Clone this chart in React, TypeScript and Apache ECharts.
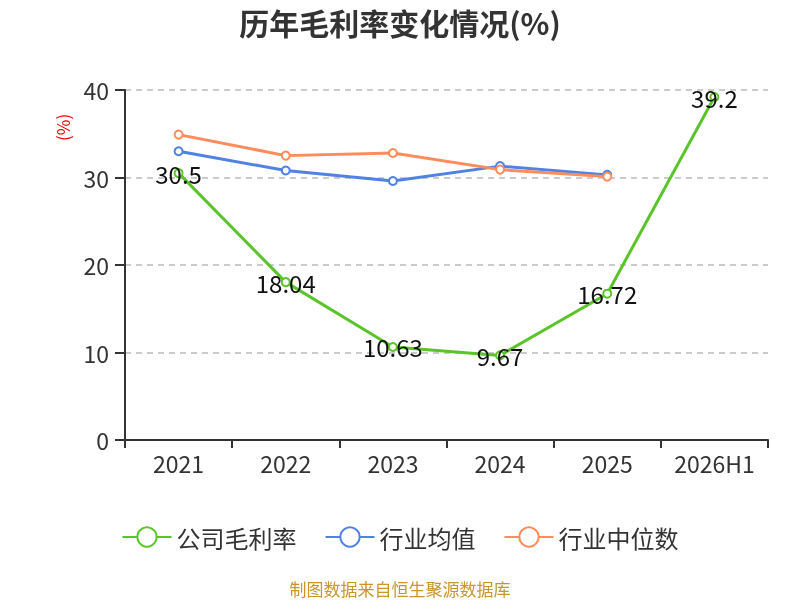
import React, { useEffect, useRef } from 'react';
import * as echarts from 'echarts';

const years = ['2021', '2022', '2023', '2024', '2025', '2026H1'];
const companyMargin = [30.5, 18.04, 10.63, 9.67, 16.72, 39.2];
const industryAvg = [33.0, 30.8, 29.6, 31.3, 30.3, null];
const industryMedian = [34.9, 32.5, 32.8, 30.9, 30.1, null];
const yTicks = [0, 10, 20, 30, 40];

const App: React.FC = () => {
  const chartRef = useRef<HTMLDivElement>(null);

  useEffect(() => {
    const chart = echarts.init(chartRef.current as HTMLDivElement, null, { renderer: 'svg' });
    const font = "'Noto Sans CJK SC', 'Noto Sans', sans-serif";
    const option = {
      animation: false,
      textStyle: { fontFamily: font },
      title: {
        text: '历年毛利率变化情况(%)',
        left: 'center',
        top: 2,
        textStyle: { fontSize: 30, fontWeight: 'bold', color: '#333', fontFamily: font },
      },
      grid: { left: 125, right: 32, top: 90, bottom: 160 },
      legend: {
        top: 520,
        left: 'center',
        itemWidth: 49,
        itemHeight: 24,
        itemGap: 28,
        textStyle: { fontSize: 24, color: '#333', fontFamily: font },
        data: ['公司毛利率', '行业均值', '行业中位数'],
      },
      xAxis: {
        type: 'category',
        data: years,
        axisLine: { lineStyle: { color: '#333', width: 2 } },
        axisTick: { show: true, interval: 0, length: 8, lineStyle: { width: 2, color: '#333' } },
        axisLabel: { interval: 0, fontSize: 23, color: '#333', margin: 11 },
      },
      yAxis: {
        type: 'value',
        min: yTicks[0],
        max: yTicks[yTicks.length - 1],
        interval: 10,
        axisLine: { show: true, lineStyle: { color: '#333', width: 2 } },
        axisTick: { show: true, length: 10, lineStyle: { width: 2 } },
        axisLabel: { fontSize: 23, color: '#333', margin: 16 },
        splitLine: { lineStyle: { type: [6, 5], color: '#bbb', width: 1.5 } },
      },
      graphic: [
        {
          type: 'text',
          x: 54,
          y: 141,
          rotation: Math.PI / 2,
          style: { text: '(%)', fill: '#e00', fontSize: 17, fontFamily: font },
        },
        {
          type: 'text',
          left: 'center',
          top: 580,
          style: { text: '制图数据来自恒生聚源数据库', fill: '#c8962a', fontSize: 17, fontFamily: font },
        },
      ],
      series: [
        {
          name: '公司毛利率',
          type: 'line',
          data: companyMargin,
          symbol: 'emptyCircle',
          symbolSize: 8,
          color: '#5ac42a',
          lineStyle: { width: 3 },
          label: { show: true, position: 'inside', fontSize: 24, color: '#111' },
          z: 3,
        },
        {
          name: '行业均值',
          type: 'line',
          data: industryAvg,
          symbol: 'emptyCircle',
          symbolSize: 8,
          color: '#4f82e3',
          lineStyle: { width: 3 },
        },
        {
          name: '行业中位数',
          type: 'line',
          data: industryMedian,
          symbol: 'emptyCircle',
          symbolSize: 8,
          color: '#ff8c5a',
          lineStyle: { width: 3 },
        },
      ],
    };
    chart.setOption(option);
    return () => {
      chart.dispose();
    };
  }, []);

  return (
    <div
      ref={chartRef}
      style={{ position: 'fixed', left: 0, top: 0, width: 800, height: 600 }}
    ></div>
  );
};

export default App;
